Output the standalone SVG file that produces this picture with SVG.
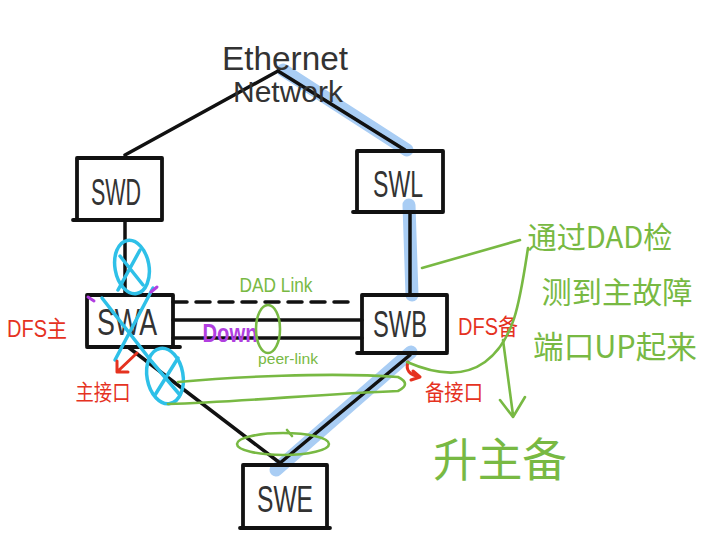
<svg xmlns="http://www.w3.org/2000/svg" width="705" height="541" viewBox="0 0 705 541">
<style>
.ln{fill:none;stroke:#111;stroke-width:3.5;stroke-linecap:round;stroke-linejoin:round}
.bx{fill:none;stroke:#111;stroke-width:3.8;stroke-linejoin:round;stroke-linecap:round}
.nl{font-family:"Liberation Sans",Arial,sans-serif;font-size:36px;fill:#333;text-anchor:middle}
.hl{fill:none;stroke:#a9cdf4;stroke-width:13;stroke-linecap:round;stroke-linejoin:round}
.cy{fill:none;stroke:#2ec0e8;stroke-width:3.5;stroke-linecap:round;stroke-linejoin:round}
.gr{fill:none;stroke:#78b943;stroke-width:2.6;stroke-linecap:round;stroke-linejoin:round}
.rd{fill:none;stroke:#e5321f;stroke-width:3;stroke-linecap:round;stroke-linejoin:round}
.gt{font-family:"Noto Sans CJK SC","Liberation Sans",sans-serif;fill:#78b943;text-anchor:middle}
.rt{font-family:"Liberation Sans","Noto Sans CJK SC",sans-serif;fill:#e5321f;text-anchor:middle}
</style>
<rect width="705" height="541" fill="#fff"/>

<!-- highlight of the backup path -->
<g id="highlight">
<path class="hl" d="M283,70 L407,150"/>
<path class="hl" d="M409,205 L412,295"/>
<path class="hl" d="M411,352 L276,470"/>
</g>

<g id="connectors">
<path class="ln" d="M125,155 L278,71"/>
<path class="ln" d="M278,71 L405,150"/>
<path class="ln" d="M125,220 L125,295"/>
<path class="ln" d="M410,213 L410,295"/>
<path class="ln" d="M173,302 L357,302" stroke-dasharray="14,9"/>
<path class="ln" d="M173,320 L362,320"/>
<path class="ln" d="M173,338 L362,338"/>
<path class="ln" d="M128,347 L280,463"/>
<path class="ln" d="M280,463 L410,355"/>
</g>

<g id="ethernet">
<text x="285" y="70" font-family="Liberation Sans,Arial,sans-serif" font-size="34" fill="#333" text-anchor="middle" textLength="126" lengthAdjust="spacingAndGlyphs">Ethernet</text>
<text x="288" y="102" font-family="Liberation Sans,Arial,sans-serif" font-size="29" fill="#333" text-anchor="middle" textLength="110" lengthAdjust="spacingAndGlyphs">Network</text>
</g>

<g id="SWD">
<path class="bx" d="M77,220 L77,158 L162,158 L162,220 M73,220 L162,220"/>
<text class="nl" x="116" y="205" textLength="50" lengthAdjust="spacingAndGlyphs">SWD</text>
</g>
<g id="SWL">
<path class="bx" d="M357,212 L357,151 L443,151 L443,212 M353,212 L443,212"/>
<text class="nl" x="398" y="197" textLength="50" lengthAdjust="spacingAndGlyphs">SWL</text>
</g>
<g id="SWA">
<path class="bx" d="M87,346 L87,295 L173,295 L173,346 M87,347 L180,347"/>
<text class="nl" x="127" y="335" textLength="60" lengthAdjust="spacingAndGlyphs">SWA</text>
</g>
<g id="SWB">
<path class="bx" d="M362,352 L362,295 L447,295 L447,352 M357,353 L447,353"/>
<text class="nl" x="400" y="337" textLength="54" lengthAdjust="spacingAndGlyphs">SWB</text>
</g>
<g id="SWE">
<path class="bx" d="M243,527 L243,465 L327,465 L327,527 M240,528 L330,528"/>
<text class="nl" x="285" y="512" textLength="56" lengthAdjust="spacingAndGlyphs">SWE</text>
</g>

<!-- link labels -->
<g id="link-labels">
<text x="276" y="292" font-family="Liberation Sans,sans-serif" font-size="20" fill="#78b943" text-anchor="middle" textLength="73" lengthAdjust="spacingAndGlyphs">DAD Link</text>
<text x="230" y="342" font-family="Liberation Sans,sans-serif" font-size="25" font-weight="bold" fill="#b13fe0" text-anchor="middle" textLength="55" lengthAdjust="spacingAndGlyphs">Down</text>
<text x="288" y="364" font-family="Liberation Sans,sans-serif" font-size="15" fill="#78b943" text-anchor="middle" textLength="60" lengthAdjust="spacingAndGlyphs">peer-link</text>
</g>

<!-- failure marks -->
<g id="failure-marks">
<ellipse class="cy" cx="132" cy="267" rx="17" ry="27" transform="rotate(-10 132 267)"/>
<path class="cy" d="M120,256 L143,285 M140,250 L118,290"/>
<path class="cy" d="M102,298 L152,362 M153,288 L115,360"/>
<ellipse class="cy" cx="165" cy="376" rx="18" ry="28" transform="rotate(-10 165 376)"/>
<path class="cy" d="M152,362 L180,395 M178,358 L155,395"/>
<path d="M88,297 L94,301 M151,292 L157,287" stroke="#b13fe0" stroke-width="3" stroke-linecap="round" fill="none"/>
</g>

<!-- red annotations -->
<g id="red-notes">
<text class="rt" x="37" y="337" font-size="23" textLength="60" lengthAdjust="spacingAndGlyphs">DFS主</text>
<text class="rt" x="488" y="335" font-size="23" textLength="60" lengthAdjust="spacingAndGlyphs">DFS备</text>
<path class="rd" d="M137,353 L117,372 M117,361 L117,372 L128,372"/>
<text class="rt" x="103" y="400" font-size="22" textLength="55" lengthAdjust="spacingAndGlyphs">主接口</text>
<path class="rd" d="M408,362 Q404,374 420,377 M413,371 L420,377 L411,380"/>
<text class="rt" x="454" y="400" font-size="22" textLength="58" lengthAdjust="spacingAndGlyphs">备接口</text>
</g>

<!-- green annotations -->
<g id="green-notes">
<ellipse class="gr" cx="268" cy="329" rx="12" ry="24"/>
<path class="gr" d="M178,382 C230,377 330,372 398,377 Q412,384 398,391 C320,394 240,402 168,404"/>
<ellipse class="gr" cx="283" cy="444" rx="46" ry="11"/>
<path class="gr" d="M287,430 L292,436"/>
<path class="gr" d="M422,268 L520,240"/>
<path class="gr" d="M528,248 C520,300 515,340 485,362 C460,380 430,372 407,362"/>
<path class="gr" d="M503,340 L513,415 M500,400 L513,417 L525,397"/>
<text class="gt" x="600" y="248" font-size="30" textLength="145" lengthAdjust="spacingAndGlyphs">通过DAD检</text>
<text class="gt" x="617" y="303" font-size="30" textLength="151" lengthAdjust="spacingAndGlyphs">测到主故障</text>
<text class="gt" x="615" y="358" font-size="31" textLength="164" lengthAdjust="spacingAndGlyphs">端口UP起来</text>
<text class="gt" x="500" y="476" font-size="46" textLength="134" lengthAdjust="spacingAndGlyphs">升主备</text>
</g>
</svg>
